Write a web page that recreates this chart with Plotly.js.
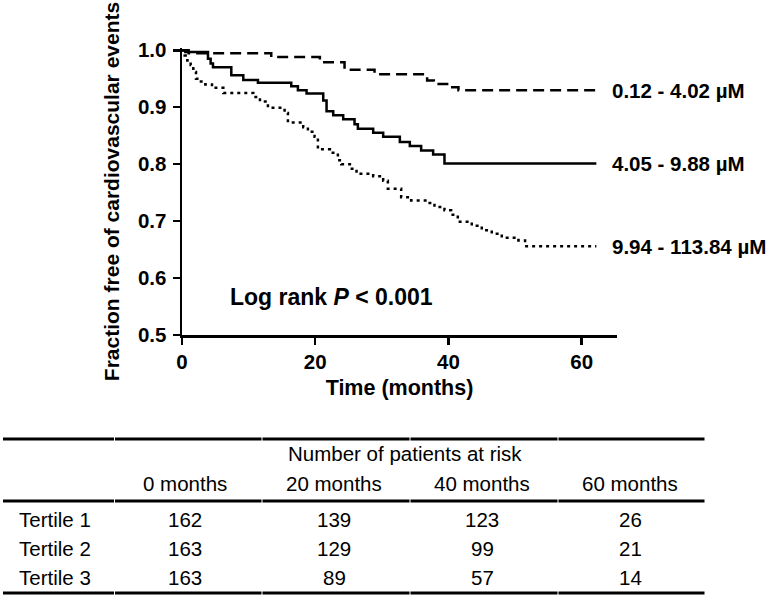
<!DOCTYPE html>
<html>
<head>
<meta charset="utf-8">
<script src="https://cdn.plot.ly/plotly-3.0.1.min.js"></script>
<style>
  html, body { margin: 0; padding: 0; background: #fff; }
  #chart { width: 770px; height: 597px; }
</style>
</head>
<body>
<div id="chart"></div>
<script>
// ---------- data ----------
const seriesNames = ['0.12 - 4.02 \u00b5M', '4.05 - 9.88 \u00b5M', '9.94 - 113.84 \u00b5M'];

const time1 = [0, 1.0, 13.4, 20.7, 24.4, 28.9, 36.8, 37.8, 39.8, 41.5, 62.2];
const surv1 = [1.0, 0.995, 0.988, 0.979, 0.966, 0.958, 0.947, 0.941, 0.935, 0.930, 0.930];

const time2 = [0, 0.5, 3.9, 4.3, 4.65, 7.4, 9.2, 11.4, 16.4, 17.4, 18.7, 21.2, 21.7, 22.7, 24.2, 25.9, 26.4, 28.7, 30.2, 32.7, 34.2, 35.9, 37.7, 39.4, 62.2];
const surv2 = [1.0, 0.997, 0.985, 0.977, 0.970, 0.956, 0.948, 0.943, 0.937, 0.930, 0.924, 0.912, 0.893, 0.886, 0.879, 0.870, 0.862, 0.855, 0.848, 0.839, 0.832, 0.824, 0.817, 0.801, 0.801];

const time3 = [0, 0.4, 0.8, 1.3, 1.7, 2.1, 2.6, 3.5, 4.5, 6.2, 10.7, 11.7, 12.9, 15.4, 15.9, 18.2, 18.9, 19.9, 20.4, 22.2, 23.4, 23.9, 25.2, 26.2, 28.7, 30.2, 30.9, 32.9, 34.4, 36.9, 37.9, 39.4, 40.4, 41.4, 43.5, 45.0, 46.5, 48.0, 50.5, 51.5, 62.2];
const surv3 = [1.0, 0.991, 0.982, 0.974, 0.962, 0.950, 0.945, 0.940, 0.934, 0.925, 0.918, 0.910, 0.899, 0.890, 0.873, 0.865, 0.857, 0.848, 0.826, 0.820, 0.807, 0.800, 0.792, 0.783, 0.779, 0.771, 0.757, 0.742, 0.736, 0.732, 0.725, 0.719, 0.711, 0.699, 0.692, 0.684, 0.678, 0.671, 0.666, 0.656, 0.656];

const xTicks = [0, 20, 40, 60];
const yTicks = [0.5, 0.6, 0.7, 0.8, 0.9, 1.0];

const tableTitle = 'Number of patients at risk';
const tertiles = ['Tertile 1', 'Tertile 2', 'Tertile 3'];
const riskTimes = ['0 months', '20 months', '40 months', '60 months'];
const atRisk1 = [162, 139, 123, 26];
const atRisk2 = [163, 129, 99, 21];
const atRisk3 = [163, 89, 57, 14];
const logRankText = 'Log rank <i>P</i> &lt; 0.001';

// ---------- layout helpers ----------
const W = 770, H = 597;
const M = {l: 182, r: 153, t: 48, b: 262};
const plotW = W - M.l - M.r, plotH = H - M.t - M.b;
const px2x = px => (px - M.l) / plotW;
const px2y = py => (H - M.b - py) / plotH;

const FONT = 'Arial, "Liberation Sans", Helvetica, sans-serif';
const boldFont = size => ({family: FONT, size: size, color: '#000', weight: 'bold'});
const plainFont = size => ({family: FONT, size: size, color: '#000'});

const series = [
  {t: time1, s: surv1, dash: '11px,6px'},
  {t: time2, s: surv2, dash: 'solid'},
  {t: time3, s: surv3, dash: '3px,4px'}
];

const traces = series.map((d, i) => ({
  type: 'scatter', mode: 'lines', x: d.t, y: d.s, name: seriesNames[i],
  line: {shape: 'hv', color: '#000', width: 2.5, dash: d.dash},
  hoverinfo: 'skip', showlegend: false
}));

const annotations = [];
// curve end labels
series.forEach((d, i) => {
  annotations.push({
    xref: 'x', yref: 'y', x: d.t[d.t.length - 1], y: d.s[d.s.length - 1],
    text: seriesNames[i], showarrow: false, xanchor: 'left', yanchor: 'middle',
    xshift: 14, font: boldFont(20.5)
  });
});
annotations.push({
  xref: 'paper', yref: 'paper', x: px2x(228), y: px2y(297), text: logRankText,
  showarrow: false, xanchor: 'left', yanchor: 'middle', font: boldFont(23)
});

// risk table
const colCenters = [185, 334, 482, 630];
annotations.push({
  xref: 'paper', yref: 'paper', x: px2x(405), y: px2y(453), text: tableTitle,
  showarrow: false, xanchor: 'center', yanchor: 'middle', font: plainFont(20.5)
});
riskTimes.forEach((m, j) => {
  annotations.push({
    xref: 'paper', yref: 'paper', x: px2x(colCenters[j]), y: px2y(483), text: m,
    showarrow: false, xanchor: 'center', yanchor: 'middle', font: plainFont(20.5)
  });
});
const rowsY = [519, 548, 577];
[atRisk1, atRisk2, atRisk3].forEach((row, i) => {
  annotations.push({
    xref: 'paper', yref: 'paper', x: px2x(17), y: px2y(rowsY[i]), text: tertiles[i],
    showarrow: false, xanchor: 'left', yanchor: 'middle', font: plainFont(20.5)
  });
  row.forEach((v, j) => {
    annotations.push({
      xref: 'paper', yref: 'paper', x: px2x(colCenters[j]), y: px2y(rowsY[i]), text: String(v),
      showarrow: false, xanchor: 'center', yanchor: 'middle', font: plainFont(20.5)
    });
  });
});

const shapes = [];
const colEdges = [3, 114.5, 262, 410, 558, 705];
[439, 501, 593].forEach(py => {
  for (let k = 0; k < colEdges.length - 1; k++) {
    shapes.push({
      type: 'line', xref: 'paper', yref: 'paper',
      x0: px2x(colEdges[k] + (k > 0 ? 0.5 : 0)), x1: px2x(colEdges[k + 1] - 0.5),
      y0: px2y(py), y1: px2y(py),
      line: {color: '#000', width: 2.8}
    });
  }
});

const layout = {
  width: W, height: H,
  margin: M,
  paper_bgcolor: '#fff', plot_bgcolor: '#fff',
  showlegend: false,
  xaxis: {
    range: [0, 65.3], tickvals: xTicks, ticktext: xTicks.map(String),
    ticks: 'outside', ticklen: 7, tickwidth: 2.5, tickcolor: '#000',
    showline: true, linewidth: 2.5, linecolor: '#000',
    showgrid: false, zeroline: false, fixedrange: true,
    tickfont: boldFont(20.5), ticklabelstandoff: 0,
    title: {text: 'Time (months)', font: boldFont(21.5), standoff: 8},
    automargin: false
  },
  yaxis: {
    range: [0.5, 1.004], tickvals: yTicks, ticktext: yTicks.map(v => v.toFixed(1)),
    ticks: 'outside', ticklen: 7, tickwidth: 2.5, tickcolor: '#000',
    showline: true, linewidth: 2.5, linecolor: '#000',
    showgrid: false, zeroline: false, fixedrange: true,
    tickfont: boldFont(20.5), ticklabelstandoff: 2,
    title: {text: 'Fraction free of cardiovascular events', font: boldFont(21), standoff: 13},
    automargin: false
  },
  annotations: annotations,
  shapes: shapes
};

Plotly.newPlot('chart', traces, layout, {displayModeBar: false, staticPlot: true});
</script>
</body>
</html>
